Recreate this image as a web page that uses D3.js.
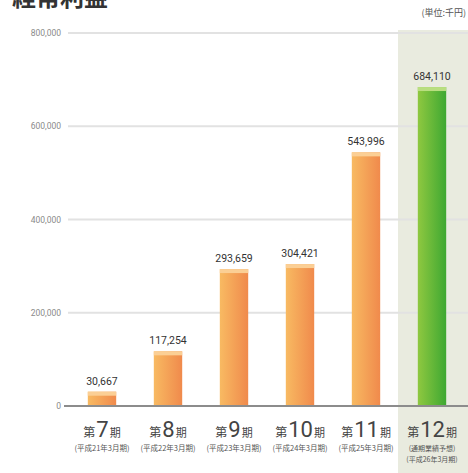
<!DOCTYPE html>
<html>
<head>
<meta charset="utf-8">
<script src="https://cdn.jsdelivr.net/npm/d3@7/dist/d3.min.js"></script>
<style>
  html, body { margin: 0; padding: 0; background: #fff; }
  svg { display: block; font-family: "Noto Sans CJK JP", "Noto Sans", sans-serif; }
</style>
</head>
<body>
<svg id="chart" width="468" height="473"></svg>
<script>
// 経常利益 (単位:千円)
const periods = ["7", "8", "9", "10", "11", "12"];
const subLabels = [
  ["(平成21年3月期)"],
  ["(平成22年3月期)"],
  ["(平成23年3月期)"],
  ["(平成24年3月期)"],
  ["(平成25年3月期)"],
  ["(通期業績予想)", "(平成26年3月期)"]
];
const profits = [30667, 117254, 293659, 304421, 543996, 684110];
const yTicks = [0, 200000, 400000, 600000, 800000];

const svg = d3.select("#chart");
const W = 468;

const x = d3.scaleBand().domain(periods).range([69, 465]).padding(0);
const y = d3.scaleLinear().domain([0, 800000]).range([406, 33]);
const barW = x.bandwidth() * 0.43;
const fmt = d3.format(",");

// gradients
const defs = svg.append("defs");
function hGrad(id, c0, c1) {
  const g = defs.append("linearGradient").attr("id", id)
    .attr("x1", "0%").attr("x2", "100%").attr("y1", "0%").attr("y2", "0%");
  g.append("stop").attr("offset", "0%").attr("stop-color", c0);
  g.append("stop").attr("offset", "100%").attr("stop-color", c1);
}
hGrad("gOrange", "#f8ba62", "#f08a4c");
hGrad("gGreen", "#8fc840", "#3ea832");

// highlighted column for the latest period
const last = periods[periods.length - 1];
svg.append("rect")
  .attr("x", x(last) - 1)
  .attr("y", y(800000) - 3)
  .attr("width", W - (x(last) - 1))
  .attr("height", 473 - (y(800000) - 3))
  .attr("fill", "#e9ebdf");

// gridlines + tick labels
const axis = d3.axisLeft(y)
  .tickValues(yTicks)
  .tickFormat(fmt)
  .tickSize(0)
  .tickPadding(0);
const gAxis = svg.append("g").attr("transform", "translate(61,0)").call(axis);
gAxis.select(".domain").remove();
gAxis.selectAll("text")
  .attr("x", 0)
  .attr("fill", "#8a8a8a")
  .style("font-size", "8.5px")
  .style("font-family", "Roboto, 'Liberation Sans', sans-serif");

svg.append("g").selectAll("line")
  .data(yTicks.filter(d => d > 0))
  .join("line")
  .attr("x1", 68).attr("x2", W)
  .attr("y1", d => y(d)).attr("y2", d => y(d))
  .attr("stroke", "#e2e2e2")
  .attr("stroke-width", 2);

// bars
const bars = svg.append("g").selectAll("g")
  .data(periods.map((p, i) => ({ p, v: profits[i], last: i === periods.length - 1 })))
  .join("g");

bars.append("rect")
  .attr("x", d => x(d.p) + (x.bandwidth() - barW) / 2)
  .attr("y", d => y(d.v))
  .attr("width", barW)
  .attr("height", d => y(0) - y(d.v))
  .attr("fill", d => d.last ? "url(#gGreen)" : "url(#gOrange)");

bars.append("rect")
  .attr("x", d => x(d.p) + (x.bandwidth() - barW) / 2)
  .attr("y", d => y(d.v))
  .attr("width", barW)
  .attr("height", 4)
  .attr("fill", d => d.last ? "#b9de80" : "#fbcf95");

bars.append("text")
  .attr("x", d => x(d.p) + x.bandwidth() / 2)
  .attr("y", d => y(d.v) - 7)
  .attr("text-anchor", "middle")
  .attr("fill", "#333")
  .style("font-size", "10.5px")
  .style("font-family", "Roboto, 'Liberation Sans', sans-serif")
  .text(d => fmt(d.v));

// baseline
svg.append("line")
  .attr("x1", 64).attr("x2", W)
  .attr("y1", y(0)).attr("y2", y(0))
  .attr("stroke", "#8c8c8c")
  .attr("stroke-width", 2);

// category labels
const cat = svg.append("g").selectAll("g")
  .data(periods.map((p, i) => ({ p, sub: subLabels[i] })))
  .join("g")
  .attr("transform", d => `translate(${x(d.p) + x.bandwidth() / 2},0)`);

const main = cat.append("text")
  .attr("y", 437)
  .attr("text-anchor", "middle")
  .attr("fill", "#444");
main.append("tspan").style("font-size", "12px").text("第");
main.append("tspan").style("font-size", "22px")
  .style("font-family", "Roboto, 'Liberation Sans', sans-serif")
  .attr("dx", 1)
  .text(d => d.p);
main.append("tspan").style("font-size", "11px").attr("dx", 1).text("期");

cat.each(function(d) {
  const g = d3.select(this);
  d.sub.forEach((s, j) => {
    g.append("text")
      .attr("y", 451 + j * 11)
      .attr("text-anchor", "middle")
      .attr("fill", "#555")
      .style("font-size", d.sub.length > 1 ? "7px" : "7.5px")
      .text(s);
  });
});

// title and unit
svg.append("text")
  .attr("x", 12).attr("y", 6)
  .attr("fill", "#333")
  .style("font-size", "24px")
  .style("font-weight", "bold")
  .text("経常利益");

svg.append("text")
  .attr("x", 466).attr("y", 16)
  .attr("text-anchor", "end")
  .attr("fill", "#555")
  .style("font-size", "9px")
  .text("(単位:千円)");
</script>
</body>
</html>
